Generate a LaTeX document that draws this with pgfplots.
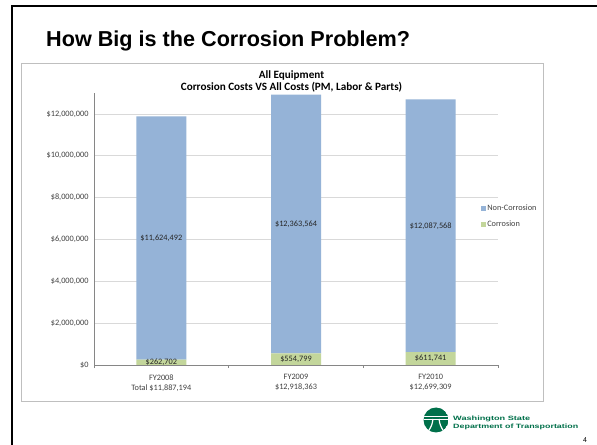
\documentclass[border=0pt]{standalone}
\usepackage{fontspec}
\setmainfont{Carlito}
\newfontfamily\arialfont{Liberation Sans}
\usepackage{pgfplots}
\usepackage{pgfplotstable}
\pgfplotsset{compat=1.18}

\definecolor{noncorr}{HTML}{95B3D7}
\definecolor{corr}{HTML}{C3D69B}
\definecolor{axisgray}{HTML}{868686}
\definecolor{gridgray}{HTML}{D9D9D9}
\definecolor{framegray}{HTML}{BFBFBF}
\definecolor{labeltext}{HTML}{404040}
\definecolor{wsdot}{HTML}{00704A}

% Corrosion and non-corrosion costs per fiscal year
\pgfplotstableread{
x corr noncorr
0 262702 11624492
1 554799 12363564
2 611741 12087568
}\costs

\newcommand\smallfont{\fontsize{8.3}{10}\selectfont}

% shared geometry of the chart's plot area
\pgfplotsset{
  plotarea/.style={
    at={(94bp,80bp)}, anchor=south west,
    scale only axis, width=404bp, height=272bp,
    xmin=-0.5, xmax=2.5, ymin=0, ymax=13000000,
    /pgf/number format/assume math mode=true,
  },
}

\begin{document}
\begin{tikzpicture}
\useasboundingbox (0bp,0bp) rectangle (597bp,445bp);
\fill[white] (0bp,0bp) rectangle (597bp,445bp);
% slide frame
\draw[line width=2.5bp] (12bp,-5bp) -- (12bp,439bp) -- (610bp,439bp);
\node[anchor=base west, inner sep=0, font=\arialfont\bfseries\fontsize{21.7}{24}\selectfont] at (46bp,398bp) {How Big is the Corrosion Problem?};
% chart area
\draw[framegray, line width=0.8bp] (21bp,44bp) rectangle (543bp,382bp);
\node[align=center, font=\bfseries\fontsize{11.2}{12}\selectfont] at (291.5bp,363.5bp)
  {All Equipment\\Corrosion Costs VS All Costs (PM, Labor \& Parts)};

\begin{axis}[
  plotarea,
  ybar stacked, bar width=50bp,
  axis lines*=left,
  axis line style={axisgray, line width=0.75bp},
  major tick length=0pt,
  tick style={axisgray, line width=0.6bp},
  xtick={0,1,2},
  xticklabels={{FY2008\\Total \$11,887,194},{FY2009\\\$12,918,363},{FY2010\\\$12,699,309}},
  x tick label style={align=center, font=\smallfont, text=labeltext, yshift=-6bp},
  extra x ticks={-0.5,0.5,1.5,2.5},
  extra x tick labels={},
  extra x tick style={major tick length=3bp, tick align=outside, grid=none},
  ytick={0,2000000,4000000,6000000,8000000,10000000,12000000},
  scaled y ticks=false,
  yticklabel={\$\pgfmathprintnumber[fixed,precision=0,1000 sep={,}]{\tick}},
  y tick label style={font=\smallfont, text=labeltext, xshift=-2bp},
  ymajorgrids,
  grid style={gridgray, line width=0.6bp},
  reverse legend,
  legend cell align=left,
  legend style={draw=none, fill=white, at={(0.957,0.596)}, anchor=north west,
    font=\smallfont, text=labeltext, inner sep=0pt, row sep=6bp,
    nodes={inner sep=1.5bp}},
  legend image code/.code={\fill[#1] (0bp,-2.5bp) rectangle (5bp,2.5bp);},
]
\addplot[fill=corr, draw=none] table[x=x, y=corr] {\costs};
\addlegendentry{Corrosion}
\addplot[fill=noncorr, draw=none] table[x=x, y=noncorr] {\costs};
\addlegendentry{Non-Corrosion}
\end{axis}

% value labels, centred in each bar segment
\begin{axis}[
  plotarea, hide axis,
  point meta=explicit symbolic,
  nodes near coords={\$\pgfmathprintnumber[fixed,precision=0,1000 sep={,}]{\pgfplotspointmeta}},
  every node near coord/.append style={font=\smallfont, text=black!85, anchor=center},
]
\addplot[draw=none, mark=none] table[x=x, y expr=\thisrow{corr}/2, meta=corr] {\costs};
\addplot[draw=none, mark=none] table[x=x, y expr=\thisrow{corr}+\thisrow{noncorr}/2, meta=noncorr] {\costs};
\end{axis}

% agency logo
\begin{scope}
  \clip (436bp,25bp) circle (12.5bp);
  \fill[wsdot] (436bp,25bp) circle (12.5bp);
  \draw[white, line width=0.9bp] (423bp,29bp) -- (449bp,29bp);
  \draw[white, line width=0.9bp] (423bp,26bp) -- (449bp,26bp);
  \draw[white, line width=1.2bp] (433bp,26bp) .. controls (432bp,20bp) .. (428bp,13bp);
  \draw[white, line width=1.2bp] (439bp,26bp) .. controls (440bp,20bp) .. (444bp,13bp);
\end{scope}
\node[anchor=base west, inner sep=0, text=wsdot] at (453bp,24bp)
  {\resizebox{77bp}{4.5bp}{\arialfont\bfseries Washington State}};
\node[anchor=base west, inner sep=0, text=wsdot] at (453bp,16bp)
  {\resizebox{125bp}{4.5bp}{\arialfont\bfseries Department of Transportation}};
\node[anchor=base, inner sep=0, font=\arialfont\fontsize{7}{8}\selectfont] at (585bp,3bp) {4};
\end{tikzpicture}
\end{document}
